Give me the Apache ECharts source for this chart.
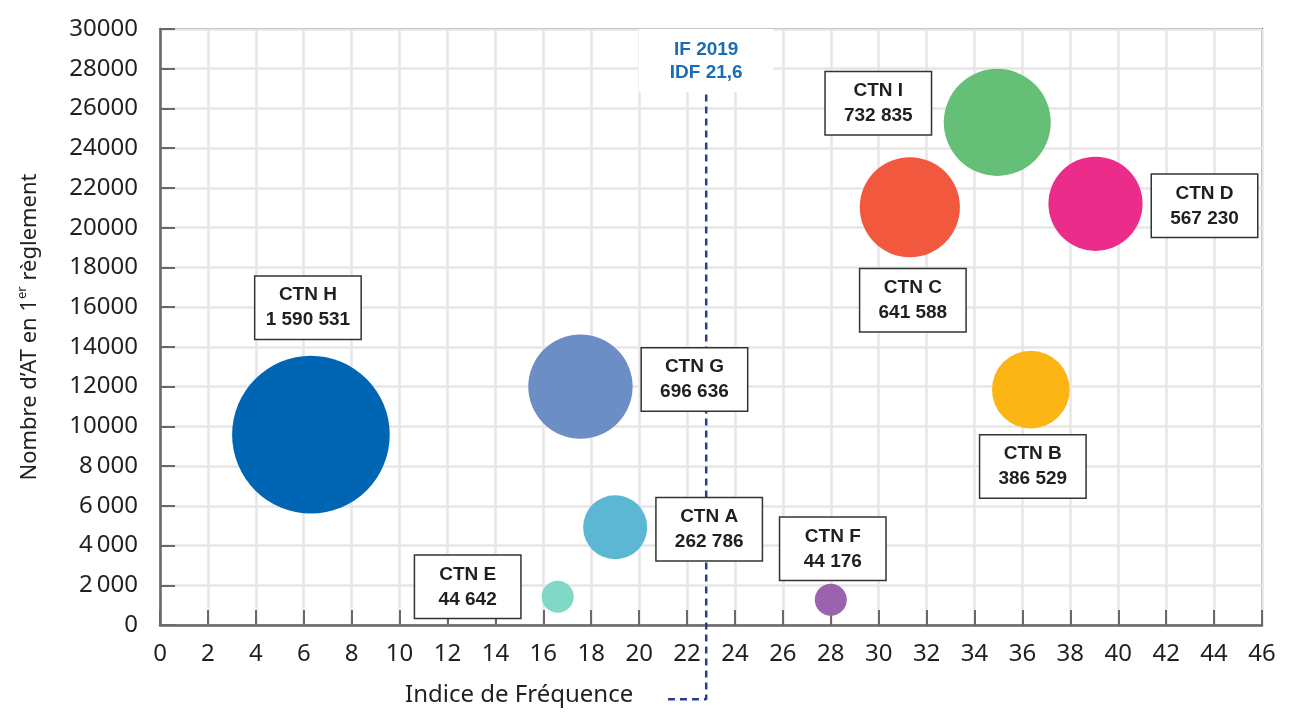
<!DOCTYPE html>
<html>
<head>
<meta charset="utf-8">
<script src="https://cdn.jsdelivr.net/npm/echarts@6/dist/echarts.min.js"></script>
<style>
  html, body { margin: 0; background: #fff; }
  #chart { width: 1290px; height: 713px; }
</style>
</head>
<body>
<div id="chart"></div>
<script>
// data
const ctnNames = ['CTN H', 'CTN G', 'CTN A', 'CTN E', 'CTN F', 'CTN C', 'CTN I', 'CTN D', 'CTN B']
const indiceFrequence = [6.3, 17.55, 19.0, 16.6, 28.0, 31.3, 34.95, 39.05, 36.35]
const nombreAT = [9580, 12000, 4920, 1420, 1270, 21030, 25300, 21200, 11850]
const effectifs = [1590531, 696636, 262786, 44642, 44176, 641588, 732835, 567230, 386529]

const ifIdfValue = 22.8
const ifIdfText = ['IF 2019', 'IDF 21,6']

const xMin = 0, xMax = 46, xStep = 2
const yMin = 0, yMax = 30000, yStep = 2000

// styles / placement
const bubbleColors = {
  'CTN H': '#0066b3', 'CTN G': '#6b8ec4', 'CTN A': '#5bb7d3', 'CTN E': '#80d8c7',
  'CTN F': '#9b63ad', 'CTN C': '#f2583e', 'CTN I': '#66bf76', 'CTN D': '#ec2c8a', 'CTN B': '#fbb615'
}
const labelOffsets = {
  'CTN H': [-3, -127], 'CTN G': [114, -7], 'CTN A': [94, 2], 'CTN E': [-90, -10],
  'CTN F': [2, -51], 'CTN C': [3, 93], 'CTN I': [-119, -19], 'CTN D': [109, 2], 'CTN B': [2, 77]
}
// the dashed IF line runs below the axis and turns left towards the axis name
const leaderTop = 26700, leaderBottom = -3740, leaderEndX = 21.1

const textFont = 'Noto Sans'
const boxFont = 'Liberation Sans'
const axisGrey = '#6d6766'
const textColor = '#231f20'

const groupDigits = v => String(v).replace(/\B(?=(\d{3})+(?!\d))/g, ' ')

const bubbleData = ctnNames.map((name, i) => ({
  name: name,
  value: [indiceFrequence[i], nombreAT[i], effectifs[i]],
  itemStyle: { color: bubbleColors[name], opacity: 1 },
  label: { offset: labelOffsets[name] }
}))

const chart = echarts.init(document.getElementById('chart'))

const option = {
  animation: false,
  grid: {
    left: 160, right: 28, top: 29, bottom: 88,
    show: true,
    borderColor: axisGrey,
    borderWidth: 2
  },
  xAxis: {
    type: 'value',
    min: xMin, max: xMax, interval: xStep,
    axisLine: { show: true, lineStyle: { color: axisGrey, width: 2.5 } },
    axisTick: { show: true, inside: true, length: 15, lineStyle: { color: axisGrey, width: 2 } },
    splitLine: { show: true, lineStyle: { color: '#e6e6e6', width: 2.5 } },
    axisLabel: { margin: 17, fontSize: 24, fontFamily: textFont, color: textColor }
  },
  yAxis: {
    type: 'value',
    min: yMin, max: yMax, interval: yStep,
    name: "{a|Nombre d’AT en 1}{s|er}{a| règlement}",
    nameLocation: 'middle',
    nameRotate: 90,
    nameGap: 117,
    nameTextStyle: {
      rich: {
        a: { fontSize: 22, fontFamily: textFont, color: textColor, lineHeight: 27 },
        s: { fontSize: 13, fontFamily: textFont, color: textColor, verticalAlign: 'top', lineHeight: 14 }
      }
    },
    axisLine: { show: true, lineStyle: { color: axisGrey, width: 2.5 } },
    axisTick: { show: true, inside: true, length: 15, lineStyle: { color: axisGrey, width: 2 } },
    splitLine: { show: true, lineStyle: { color: '#e6e6e6', width: 2.5 } },
    axisLabel: {
      margin: 22, fontSize: 24, fontFamily: textFont, color: textColor,
      padding: [0, 0, 6, 0],
      formatter: v => (v > 0 && v < 10000) ? String(v).replace(/(\d)(\d{3})$/, '$1\u2009$2') : String(v)
    }
  },
  graphic: [{
    type: 'text',
    left: 405, top: 683,
    style: { text: 'Indice de Fréquence', font: '24px "Noto Sans"', fill: textColor }
  }],
  series: [
    {
      type: 'line',
      z: 1,
      clip: false,
      silent: true,
      symbol: 'circle',
      symbolSize: 1,
      showSymbol: true,
      showAllSymbol: true,
      itemStyle: { color: 'rgba(0,0,0,0)' },
      lineStyle: { color: '#2b3d8f', width: 2.5, type: [7, 5] },
      label: { show: false },
      data: [
        {
          value: [ifIdfValue, leaderTop],
          label: {
            show: true,
            position: 'top',
            distance: 2,
            formatter: ifIdfText.join('\n'),
            fontFamily: boxFont,
            fontWeight: 'bold',
            fontSize: 19,
            lineHeight: 23,
            color: '#1a6cb5',
            align: 'center',
            backgroundColor: '#fff',
            padding: [9, 31, 8, 31]
          }
        },
        [ifIdfValue, leaderBottom],
        [leaderEndX, leaderBottom]
      ]
    },
    {
      type: 'scatter',
      z: 3,
      symbol: 'circle',
      symbolSize: val => Math.max(32, Math.sqrt(val[2]) * 0.125),
      data: bubbleData,
      itemStyle: { opacity: 1 },
      label: {
        show: true,
        position: 'inside',
        formatter: p => p.name + '\n' + groupDigits(p.value[2]),
        fontFamily: boxFont,
        fontWeight: 'bold',
        fontSize: 19,
        lineHeight: 25,
        color: textColor,
        align: 'center',
        verticalAlign: 'middle',
        width: 85,
        backgroundColor: '#fff',
        borderColor: '#333',
        borderWidth: 1.5,
        padding: [6, 10]
      },
      emphasis: { disabled: true }
    }
  ]
}

chart.setOption(option)
</script>
</body>
</html>
